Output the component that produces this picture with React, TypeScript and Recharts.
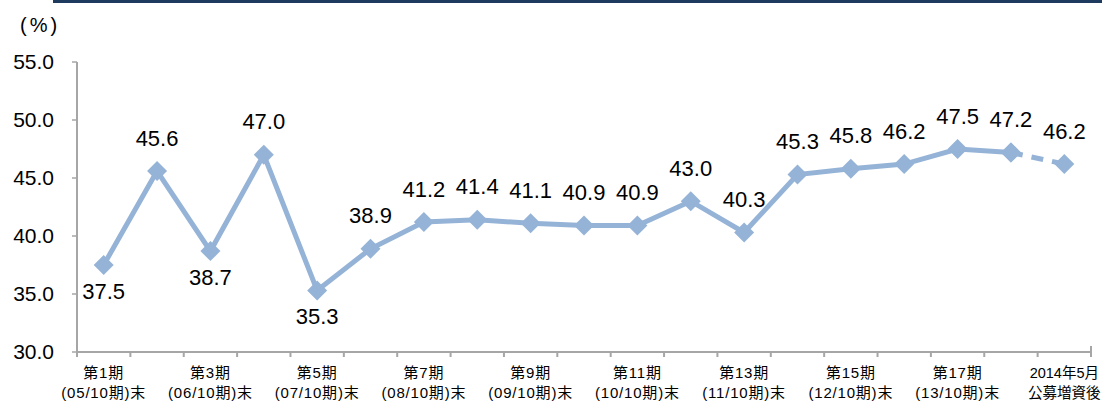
import { CartesianGrid, LabelList, Line, LineChart, XAxis, YAxis } from 'recharts'

const categories = [
  '第1期', '第2期', '第3期', '第4期', '第5期', '第6期', '第7期', '第8期', '第9期', '第10期',
  '第11期', '第12期', '第13期', '第14期', '第15期', '第16期', '第17期', '第18期', '2014年5月'
]
const subLabels = [
  '(05/10期)末', '', '(06/10期)末', '', '(07/10期)末', '', '(08/10期)末', '', '(09/10期)末', '',
  '(10/10期)末', '', '(11/10期)末', '', '(12/10期)末', '', '(13/10期)末', '', '公募増資後'
]
const ratios = [37.5, 45.6, 38.7, 47.0, 35.3, 38.9, 41.2, 41.4, 41.1, 40.9, 40.9, 43.0, 40.3, 45.3, 45.8, 46.2, 47.5, 47.2, 46.2]
const yTicks = [30, 35, 40, 45, 50, 55]

// last point (after the offering) is joined with a dashed segment
const SPLIT = ratios.length - 2
const below = [0, 2, 4]

const chartData = categories.map((name, i) => ({
  name,
  main: i <= SPLIT ? ratios[i] : null,
  after: i >= SPLIT ? ratios[i] : null
}))

const FONT = "'Liberation Sans', Arial, 'Noto Sans CJK JP', sans-serif"
const LINE_COLOR = '#95B3D7'
const AXIS_COLOR = '#A6A6A6'
const PLOT_LEFT = 77
const PLOT_RIGHT = 1091
const STEP = (PLOT_RIGHT - PLOT_LEFT) / categories.length

const Diamond = (props: any) => {
  const { cx, cy, value, index } = props
  if (value == null || cx == null || cy == null) return <g key={`d-${index}`} />
  const r = 10
  return (
    <polygon
      key={`d-${index}`}
      points={`${cx},${cy - r} ${cx + r},${cy} ${cx},${cy + r} ${cx - r},${cy}`}
      fill={LINE_COLOR}
    />
  )
}

const makeLabel = (onlyLast: boolean) => (props: any) => {
  const { x, y, value, index } = props
  if (value == null) return null
  if (onlyLast && index !== ratios.length - 1) return null
  const dy = below.includes(index) ? 26 : -33
  return (
    <text
      x={x}
      y={y + dy}
      textAnchor="middle"
      dominantBaseline="central"
      fontSize={22}
      fontFamily={FONT}
      fill="#000"
    >
      {Number(value).toFixed(1)}
    </text>
  )
}

const XTick = (props: any) => {
  const { x, y, index } = props
  const showText = index % 2 === 0
  const isLast = index === categories.length - 1
  return (
    <g>
      <line x1={x - STEP / 2} x2={x - STEP / 2} y1={y} y2={y + 5} stroke={AXIS_COLOR} strokeWidth={2} />
      {isLast && (
        <line x1={x + STEP / 2} x2={x + STEP / 2} y1={y - 6} y2={y + 5} stroke={AXIS_COLOR} strokeWidth={2} />
      )}
      {showText && (
        <text
          textAnchor="middle"
          fontSize={isLast ? 14.5 : 15}
          letterSpacing={isLast ? 0 : 0.8}
          fontFamily={FONT}
          fill="#000"
        >
          <tspan x={x} y={y + 26}>{categories[index]}</tspan>
          <tspan x={x} y={y + 46}>{subLabels[index]}</tspan>
        </text>
      )}
    </g>
  )
}

export default function App() {
  return (
    <div style={{ position: 'absolute', left: 0, top: 0, width: 1102, height: 403, background: '#fff', fontFamily: FONT }}>
      <div style={{ position: 'absolute', left: 53, top: 0, width: 1049, height: 3, background: '#1F3A5F' }} />
      <div
        style={{
          position: 'absolute',
          left: 20,
          top: 12,
          fontSize: 20,
          letterSpacing: 3,
          color: '#000',
          lineHeight: '26px'
        }}
      >
        (%)
      </div>
      <LineChart
        width={1102}
        height={403}
        data={chartData}
        margin={{ top: 62, right: 1102 - PLOT_RIGHT, bottom: 0, left: 0 }}
      >
        <CartesianGrid horizontal={false} vertical={false} />
        <XAxis
          dataKey="name"
          interval={0}
          height={51}
          padding={{ left: STEP / 2, right: STEP / 2 }}
          axisLine={{ stroke: AXIS_COLOR, strokeWidth: 2 }}
          tickLine={false}
          tickSize={0}
          tickMargin={0}
          tick={<XTick />}
        />
        <YAxis
          width={PLOT_LEFT}
          domain={[30, 55]}
          ticks={yTicks}
          interval={0}
          tickFormatter={(v: number) => v.toFixed(1)}
          axisLine={{ stroke: AXIS_COLOR, strokeWidth: 2 }}
          tickLine={{ stroke: AXIS_COLOR, strokeWidth: 1.5 }}
          tickSize={5}
          tickMargin={18}
          tick={{ fill: '#000', fontSize: 21, fontFamily: FONT }}
        />
        <Line
          type="linear"
          dataKey="after"
          stroke={LINE_COLOR}
          strokeWidth={5}
          strokeDasharray="12 9"
          dot={<Diamond />}
          activeDot={false}
          connectNulls={false}
          isAnimationActive={false}
        >
          <LabelList dataKey="after" content={makeLabel(true)} />
        </Line>
        <Line
          type="linear"
          dataKey="main"
          stroke={LINE_COLOR}
          strokeWidth={5}
          dot={<Diamond />}
          activeDot={false}
          connectNulls={false}
          isAnimationActive={false}
        >
          <LabelList dataKey="main" content={makeLabel(false)} />
        </Line>
      </LineChart>
    </div>
  )
}
